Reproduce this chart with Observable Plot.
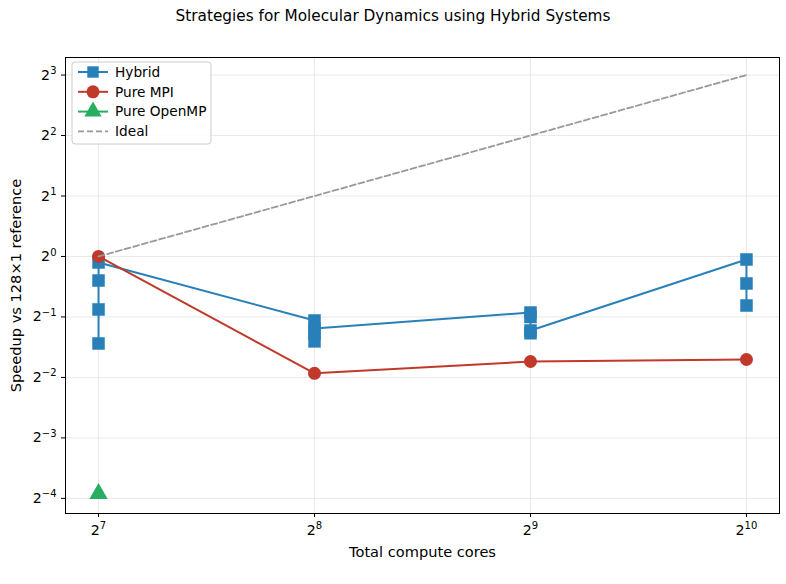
<!DOCTYPE html>
<html><head><meta charset="utf-8">
<script src="https://cdn.jsdelivr.net/npm/d3@7"></script>
<script src="https://cdn.jsdelivr.net/npm/@observablehq/plot@0.6"></script>
<style>
body{margin:0;background:#fff;font-family:"DejaVu Sans",sans-serif}
</style>
</head><body><div id="chart"></div>
<script>
// Total compute cores and measured speedups (relative to the 128x1 reference run)
const cores = [128, 256, 512, 1024];
const hybridCores = [128, 128, 128, 128, 256, 256, 256, 256, 512, 512, 512, 512, 1024, 1024, 1024];
const hybridSpeedup = [0.369, 0.545, 0.759, 0.934, 0.480, 0.378, 0.414, 0.438, 0.526, 0.500, 0.415, 0.428, 0.966, 0.734, 0.570];
const mpiSpeedup = [1.0, 0.262, 0.300, 0.307];
const openmpCores = [128];
const openmpSpeedup = [0.066];
const idealSpeedup = [1, 2, 4, 8];
const xTicks = [128, 256, 512, 1024];
const yTicks = [1/16, 1/8, 1/4, 1/2, 1, 2, 4, 8];
const seriesNames = ["Hybrid", "Pure MPI", "Pure OpenMP", "Ideal"];

const BLUE = "#2980b9", RED = "#c0392b", GREEN = "#27ae60", GRAY = "#999999";
const W = 786, H = 584;

const pow2 = d => "2^" + String(Math.round(Math.log2(d))).replace("-", "\u2212");

const chart = Plot.plot({
  width: W, height: H,
  marginLeft: 65, marginRight: 7, marginTop: 57, marginBottom: 71,
  style: {fontFamily: "DejaVu Sans, sans-serif", fontSize: "14px", color: "#000", background: "#fff"},
  x: {type: "log", base: 2, domain: [2 ** 6.847, 2 ** 10.153]},
  y: {type: "log", base: 2, domain: [2 ** -4.25, 2 ** 3.29]},
  marks: [
    Plot.gridX(xTicks, {stroke: "#e3e3e3", strokeOpacity: 1, strokeWidth: 0.8}),
    Plot.gridY(yTicks, {stroke: "#e3e3e3", strokeOpacity: 1, strokeWidth: 0.8}),
    Plot.axisX(xTicks, {tickSize: 4, tickPadding: 7, tickFormat: pow2, fontSize: 14.2,
      label: "Total compute cores", labelAnchor: "center", labelArrow: "none", labelOffset: 43}),
    Plot.axisY(yTicks, {tickSize: 4, tickPadding: 5, tickFormat: pow2, fontSize: 14.2,
      label: "Speedup vs 128\u00d71 reference", labelAnchor: "center", labelArrow: "none", labelOffset: 55}),
    // Hybrid runs: every decomposition at each core count, joined in run order
    Plot.line(hybridCores, {x: d => d, y: (d, i) => hybridSpeedup[i], stroke: BLUE, strokeWidth: 2}),
    Plot.dot(hybridCores, {x: d => d, y: (d, i) => hybridSpeedup[i], symbol: "square", r: 6.8, fill: BLUE, stroke: BLUE, strokeWidth: 0.5}),
    // Pure MPI
    Plot.line(cores, {x: d => d, y: (d, i) => mpiSpeedup[i], stroke: RED, strokeWidth: 2}),
    Plot.dot(cores, {x: d => d, y: (d, i) => mpiSpeedup[i], symbol: "circle", r: 6.5, fill: RED}),
    // Pure OpenMP
    Plot.dot(openmpCores, {x: d => d, y: (d, i) => openmpSpeedup[i], symbol: "triangle", r: 6.8, fill: GREEN}),
    // Ideal linear scaling
    Plot.line(cores, {x: d => d, y: (d, i) => idealSpeedup[i], stroke: GRAY, strokeWidth: 1.8, strokeDasharray: "6,3"}),
    Plot.frame({stroke: "#000", strokeWidth: 1})
  ]
});

document.getElementById("chart").appendChild(chart);
const svg = d3.select(chart);

// Axis titles slightly larger than tick labels
svg.selectAll('g[aria-label="x-axis label"] text, g[aria-label="y-axis label"] text')
  .attr("font-size", "14.6px");

// Powers of two as base + superscript exponent
svg.selectAll('g[aria-label$="tick label"] text').each(function() {
  const t = this.textContent;
  if (!t.includes("^")) return;
  const [base, exp] = t.split("^");
  const el = d3.select(this);
  el.text(null);
  el.append("tspan").text(base);
  el.append("tspan").attr("dy", "-0.55em").attr("font-size", "10px").text(exp);
});

// Title
svg.append("text")
  .attr("x", W / 2).attr("y", 21)
  .attr("text-anchor", "middle")
  .attr("font-size", "15.3px")
  .attr("fill", "#000")
  .text("Strategies for Molecular Dynamics using Hybrid Systems");

// Legend
const lg = svg.append("g").attr("transform", "translate(72,62)");
lg.append("rect").attr("width", 139).attr("height", 82).attr("rx", 3)
  .attr("fill", "#fff").attr("fill-opacity", 0.85).attr("stroke", "#cccccc");
const styles = [
  {color: BLUE, symbol: d3.symbolSquare, size: 130, dash: null, w: 2},
  {color: RED, symbol: d3.symbolCircle, size: 133, dash: null, w: 2},
  {color: GREEN, symbol: d3.symbolTriangle, size: 130, dash: null, w: 2},
  {color: GRAY, symbol: null, dash: "6,3", w: 1.8}
];
seriesNames.forEach((name, i) => {
  const y = 10 + i * 19.8, s = styles[i];
  const row = lg.append("g").attr("transform", `translate(0,${y})`);
  row.append("line").attr("x1", 6).attr("x2", 36).attr("y1", 0).attr("y2", 0)
    .attr("stroke", s.color).attr("stroke-width", s.w).attr("stroke-dasharray", s.dash);
  if (s.symbol) row.append("path").attr("d", d3.symbol(s.symbol, s.size)())
    .attr("transform", "translate(21,0)").attr("fill", s.color);
  row.append("text").attr("x", 43).attr("y", 0).attr("dy", "0.35em")
    .attr("text-anchor", "start")
    .attr("font-size", "13.7px").attr("fill", "#000").text(name);
});
</script>
</body></html>
